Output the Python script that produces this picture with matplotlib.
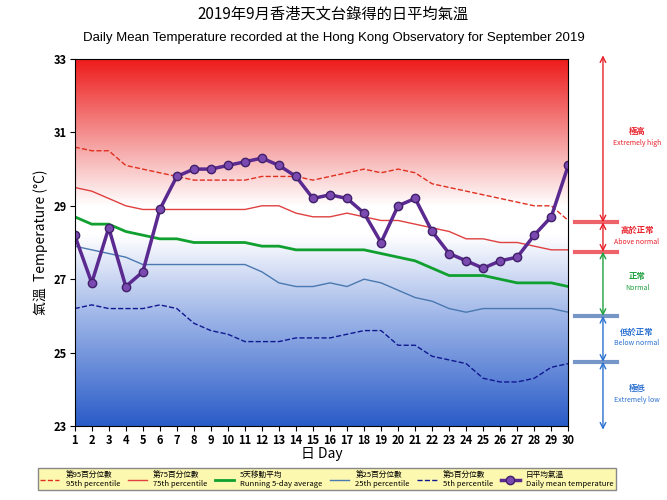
import numpy as np
import matplotlib.pyplot as plt
from matplotlib.colors import LinearSegmentedColormap
from matplotlib.transforms import blended_transform_factory

plt.rcParams['font.family'] = ['Noto Sans CJK JP', 'DejaVu Sans']
CJK = 'Noto Sans CJK JP'

days = list(range(1, 31))
daily_mean = [28.2, 26.9, 28.4, 26.8, 27.2, 28.9, 29.8, 30.0, 30.0, 30.1, 30.2, 30.3, 30.1, 29.8, 29.2,
              29.3, 29.2, 28.8, 28.0, 29.0, 29.2, 28.3, 27.7, 27.5, 27.3, 27.5, 27.6, 28.2, 28.7, 30.1]
p95 = [30.6, 30.5, 30.5, 30.1, 30.0, 29.9, 29.8, 29.7, 29.7, 29.7, 29.7, 29.8, 29.8, 29.8, 29.7,
       29.8, 29.9, 30.0, 29.9, 30.0, 29.9, 29.6, 29.5, 29.4, 29.3, 29.2, 29.1, 29.0, 29.0, 28.6]
p75 = [29.5, 29.4, 29.2, 29.0, 28.9, 28.9, 28.9, 28.9, 28.9, 28.9, 28.9, 29.0, 29.0, 28.8, 28.7,
       28.7, 28.8, 28.7, 28.6, 28.6, 28.5, 28.4, 28.3, 28.1, 28.1, 28.0, 28.0, 27.9, 27.8, 27.8]
run5 = [28.7, 28.5, 28.5, 28.3, 28.2, 28.1, 28.1, 28.0, 28.0, 28.0, 28.0, 27.9, 27.9, 27.8, 27.8,
        27.8, 27.8, 27.8, 27.7, 27.6, 27.5, 27.3, 27.1, 27.1, 27.1, 27.0, 26.9, 26.9, 26.9, 26.8]
p25 = [27.9, 27.8, 27.7, 27.6, 27.4, 27.4, 27.4, 27.4, 27.4, 27.4, 27.4, 27.2, 26.9, 26.8, 26.8,
       26.9, 26.8, 27.0, 26.9, 26.7, 26.5, 26.4, 26.2, 26.1, 26.2, 26.2, 26.2, 26.2, 26.2, 26.1]
p5 = [26.2, 26.3, 26.2, 26.2, 26.2, 26.3, 26.2, 25.8, 25.6, 25.5, 25.3, 25.3, 25.3, 25.4, 25.4,
      25.4, 25.5, 25.6, 25.6, 25.2, 25.2, 24.9, 24.8, 24.7, 24.3, 24.2, 24.2, 24.3, 24.6, 24.7]

fig = plt.figure(figsize=(6.67, 5.0), dpi=100)
ax = fig.add_axes([0.112, 0.148, 0.74, 0.734])

# fundo em degradê vermelho -> branco -> azul
cmap = LinearSegmentedColormap.from_list('bg', [(0, '#2a5cc8'), (0.3, '#9fb6e8'), (0.52, '#ffffff'),
                                                (0.6, '#ffffff'), (0.78, '#f59a9a'), (1, '#ee1c1c')])
grad = np.linspace(0, 1, 256).reshape(-1, 1)
ax.imshow(grad, aspect='auto', cmap=cmap, origin='lower', extent=[1, 30, 23, 33], zorder=0)

ax.plot(days, p95, '--', color='#e03020', lw=1, label='第95百分位數\n95th percentile')
ax.plot(days, p75, '-', color='#e04040', lw=1, label='第75百分位數\n75th percentile')
ax.plot(days, run5, '-', color='#10a030', lw=2, label='5天移動平均\nRunning 5-day average')
ax.plot(days, p25, '-', color='#4a78b0', lw=1, label='第25百分位數\n25th percentile')
ax.plot(days, p5, '--', color='#101890', lw=1, label='第5百分位數\n5th percentile')
ax.plot(days, daily_mean, '-o', color='#5a2a90', lw=2.5, ms=6, mfc='#7a4ab0', mec='#40206a',
        label='日平均氣溫\nDaily mean temperature')

ax.set_xlim(1, 30)
ax.set_ylim(23, 33)
ax.set_xticks(days)
ax.set_yticks(range(23, 34, 2))
ax.tick_params(labelsize=8, pad=2)
for lab in ax.get_xticklabels() + ax.get_yticklabels():
    lab.set_fontweight('bold')
ax.set_xlabel('日 Day', fontsize=10, labelpad=0)
ax.set_ylabel('氣溫  Temperature (°C)', fontsize=10)

fig.text(0.5, 0.962, '2019年9月香港天文台錄得的日平均氣溫', ha='center', fontsize=11, family=CJK)
fig.text(0.5, 0.918, 'Daily Mean Temperature recorded at the Hong Kong Observatory for September 2019',
         ha='center', fontsize=9.5, family='Liberation Sans')

# classificações à direita
tr = blended_transform_factory(fig.transFigure, ax.transData)
bands = [(33.1, 28.55, '#e8202a', '極高', 'Extremely high'),
         (28.55, 27.75, '#e8202a', '高於正常', 'Above normal'),
         (27.75, 26.0, '#20a040', '正常', 'Normal'),
         (26.0, 24.75, '#2a70d0', '低於正常', 'Below normal'),
         (24.75, 22.9, '#2a70d0', '極低', 'Extremely low')]
xa = 0.904
for top, bot, col, zh, en in bands:
    ax.annotate('', xy=(xa, top), xytext=(xa, bot), xycoords=tr, textcoords=tr,
                arrowprops=dict(arrowstyle='<->', color=col, lw=1, shrinkA=0, shrinkB=0))
    mid = (top + bot) / 2
    fig.text(0.955, mid + 0.12, zh, transform=tr, ha='center', fontsize=6, color=col, weight='bold')
    fig.text(0.955, mid - 0.18, en, transform=tr, ha='center', fontsize=5, color=col)
for yv, col in [(28.55, '#e8202a'), (27.75, '#e8202a'), (26.0, '#3a6ab0'), (24.75, '#3a6ab0')]:
    ax.plot([0.862, 0.925], [yv, yv], color=col, lw=3, alpha=0.7, transform=tr, clip_on=False)

fig.legend(loc='lower center', bbox_to_anchor=(0.49, 0.012), ncol=6, fontsize=5.5,
           facecolor='#fdf8b0', edgecolor='#888888', fancybox=False, framealpha=1,
           handlelength=2.5, columnspacing=1.0, borderpad=0.3, labelspacing=0.2)

fig.savefig('out.png', dpi=100)
